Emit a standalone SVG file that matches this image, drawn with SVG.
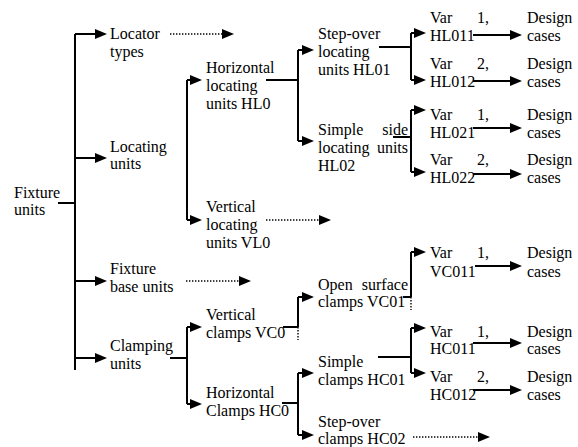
<svg xmlns="http://www.w3.org/2000/svg" width="578" height="447" viewBox="0 0 578 447">
<defs>
<marker id="ah" viewBox="0 0 12 10" markerWidth="12" markerHeight="10" refX="6" refY="5" orient="auto" markerUnits="userSpaceOnUse">
<path d="M0,0 L12,5 L0,10 Z" fill="#000"/>
</marker>
<style>
text{font-family:'Liberation Serif','DejaVu Serif','Times New Roman',serif;font-size:16px;fill:#000}
.e{text-anchor:end}
.s{fill:none;stroke:#000;stroke-width:2}
.d{fill:none;stroke:#000;stroke-width:1.4;stroke-dasharray:1.4 1.6}
.a{marker-end:url(#ah)}
</style>
</defs>
<rect width="578" height="447" fill="#fff"/>
<g id="connectors">
<path class="s" d="M75,34V370M58,203H75"/>
<path class="s a" d="M75,34H101"/>
<path class="s a" d="M75,158H101"/>
<path class="s a" d="M75,281H101"/>
<path class="s a" d="M75,358H101"/>
<path class="d a" d="M170,34H228"/>
<path class="d a" d="M186,281H245"/>
<path class="s" d="M187,80V220"/>
<path class="s a" d="M187,80H196"/>
<path class="s a" d="M187,220H196"/>
<path class="d a" d="M266,220H325"/>
<path class="s" d="M266,80H298M298,50V141"/>
<path class="s a" d="M298,50H308"/>
<path class="s a" d="M298,141H308"/>
<path class="s" d="M379,47H411M411,33V80"/>
<path class="s a" d="M411,33H420"/>
<path class="s a" d="M411,80H420"/>
<path class="s" d="M393,137H411M411,110V172"/>
<path class="s a" d="M411,110H420"/>
<path class="s a" d="M411,172H420"/>
<path class="s a" d="M473,35H516"/>
<path class="s a" d="M473,81H516"/>
<path class="s a" d="M473,128H516"/>
<path class="s a" d="M473,174H516"/>
<path class="s" d="M170,358H187M187,327V404"/>
<path class="s a" d="M187,327H196"/>
<path class="s a" d="M187,404H196"/>
<path class="s" d="M283,327H298M298,297V327"/>
<path class="d" d="M298,327V340"/>
<path class="s a" d="M298,297H308"/>
<path class="s" d="M403,297H411M411,252V297"/>
<path class="d" d="M411,297V310"/>
<path class="s a" d="M411,252H420"/>
<path class="s a" d="M475,266H516"/>
<path class="s" d="M282,403H298M298,373V435"/>
<path class="s a" d="M298,373H308"/>
<path class="s a" d="M298,435H308"/>
<path class="s" d="M378,357H411M411,328V373"/>
<path class="s a" d="M411,328H420"/>
<path class="s a" d="M411,373H420"/>
<path class="s a" d="M473,343H516"/>
<path class="s a" d="M473,390H516"/>
<path class="d a" d="M413,437H484"/>
</g>
<g font-family="Liberation Serif, DejaVu Serif, serif" font-size="16">
<g id="fixture-units"><text x="14" y="198">Fixture</text><text x="14" y="215">units</text></g>
<g id="locator-types"><text x="110" y="39">Locator</text><text x="110" y="57">types</text></g>
<g id="locating-units"><text x="110" y="152">Locating</text><text x="110" y="169">units</text></g>
<g id="fixture-base-units"><text x="110" y="274">Fixture</text><text x="110" y="292">base units</text></g>
<g id="clamping-units"><text x="110" y="351">Clamping</text><text x="110" y="369">units</text></g>
<g id="HL0"><text x="206" y="73">Horizontal</text><text x="206" y="91">locating</text><text x="206" y="109">units HL0</text></g>
<g id="VL0"><text x="206" y="212">Vertical</text><text x="206" y="230">locating</text><text x="206" y="248">units VL0</text></g>
<g id="VC0"><text x="206" y="320">Vertical</text><text x="206" y="338">clamps VC0</text></g>
<g id="HC0"><text x="206" y="398">Horizontal</text><text x="206" y="416">Clamps HC0</text></g>
<g id="HL01"><text x="318" y="39">Step-over</text><text x="318" y="57">locating</text><text x="318" y="75">units HL01</text></g>
<g id="HL02"><text x="318" y="135">Simple</text><text class="e" x="408" y="135">side</text><text x="318" y="153">locating</text><text class="e" x="408" y="153">units</text><text x="318" y="171">HL02</text></g>
<g id="VC01"><text x="318" y="290">Open</text><text class="e" x="408" y="290">surface</text><text x="318" y="307">clamps VC01</text></g>
<g id="HC01"><text x="318" y="367">Simple</text><text x="318" y="385">clamps HC01</text></g>
<g id="HC02"><text x="318" y="427">Step-over</text><text x="318" y="444">clamps HC02</text></g>
<g id="HL011"><text x="430" y="23">Var</text><text class="e" x="489" y="23">1,</text><text x="430" y="41">HL011</text></g>
<g id="HL012"><text x="430" y="69">Var</text><text class="e" x="489" y="69">2,</text><text x="430" y="87">HL012</text></g>
<g id="HL021"><text x="430" y="120">Var</text><text class="e" x="489" y="120">1,</text><text x="430" y="138">HL021</text></g>
<g id="HL022"><text x="430" y="165">Var</text><text class="e" x="489" y="165">2,</text><text x="430" y="183">HL022</text></g>
<g id="VC011"><text x="430" y="258">Var</text><text class="e" x="489" y="258">1,</text><text x="430" y="277">VC011</text></g>
<g id="HC011"><text x="430" y="337">Var</text><text class="e" x="489" y="337">1,</text><text x="430" y="354">HC011</text></g>
<g id="HC012"><text x="430" y="382">Var</text><text class="e" x="489" y="382">2,</text><text x="430" y="400">HC012</text></g>
<g id="dc1"><text x="527" y="23">Design</text><text x="527" y="41">cases</text></g>
<g id="dc2"><text x="527" y="69">Design</text><text x="527" y="87">cases</text></g>
<g id="dc3"><text x="527" y="120">Design</text><text x="527" y="138">cases</text></g>
<g id="dc4"><text x="527" y="165">Design</text><text x="527" y="183">cases</text></g>
<g id="dc5"><text x="527" y="258">Design</text><text x="527" y="277">cases</text></g>
<g id="dc6"><text x="527" y="337">Design</text><text x="527" y="354">cases</text></g>
<g id="dc7"><text x="527" y="382">Design</text><text x="527" y="400">cases</text></g>
</g>
</svg>
